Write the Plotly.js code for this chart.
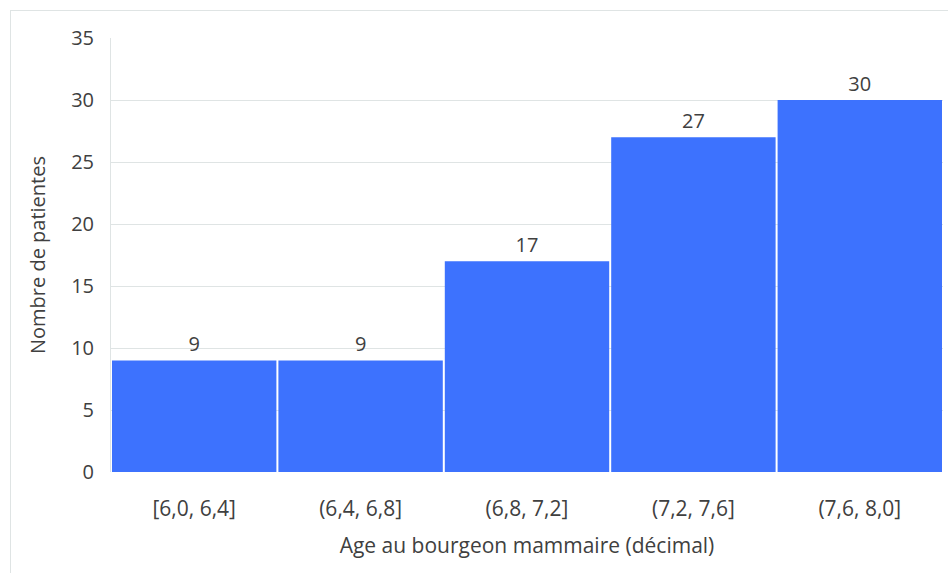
<!DOCTYPE html>
<html>
<head>
<meta charset="utf-8">
<script src="https://cdn.plot.ly/plotly-3.0.1.min.js"></script>
<style>
html,body{margin:0;padding:0;background:#fff;}
#wrap{position:relative;width:948px;height:573px;}
#frame{position:absolute;left:10px;top:10px;width:938px;height:563px;border-left:1px solid #dfe4e4;border-top:1px solid #dfe4e4;box-sizing:border-box;pointer-events:none;}
#chart{position:absolute;left:0;top:0;width:948px;height:573px;}
</style>
</head>
<body>
<div id="wrap">
<div id="chart"></div>
<div id="frame"></div>
</div>
<script>
const categories = ["[6,0, 6,4]", "(6,4, 6,8]", "(6,8, 7,2]", "(7,2, 7,6]", "(7,6, 8,0]"];
const counts = [9, 9, 17, 27, 30];
const yTicks = [0, 5, 10, 15, 20, 25, 30, 35];

const fontFam = "Open Sans, Noto Sans, sans-serif";
const textColor = "#404040";

const trace = {
  type: "bar",
  x: categories,
  y: counts,
  marker: {color: "#3d72fe", line: {width: 0}},
  text: counts.map(String),
  textposition: "outside",
  cliponaxis: false,
  textfont: {family: fontFam, size: 20, color: textColor},
  hoverinfo: "skip"
};

const layout = {
  width: 948, height: 573,
  margin: {l: 111, r: 5, t: 38, b: 101},
  paper_bgcolor: "rgba(0,0,0,0)",
  plot_bgcolor: "#ffffff",
  bargap: 0.012,
  showlegend: false,
  font: {family: fontFam, color: textColor},
  xaxis: {
    type: "category",
    showgrid: false,
    showline: false,
    zeroline: false,
    ticks: "outside",
    ticklen: 18,
    tickcolor: "rgba(0,0,0,0)",
    tickfont: {family: fontFam, size: 21, color: textColor},
    title: {text: "Age au bourgeon mammaire (décimal)", font: {family: fontFam, size: 21, color: textColor}, standoff: 17}
  },
  yaxis: {
    range: [0, 35],
    tickvals: yTicks,
    ticktext: yTicks.map(String),
    showgrid: true,
    gridcolor: "#dfe4e4",
    gridwidth: 1,
    showline: true,
    linecolor: "#dfe4e4",
    linewidth: 1,
    zeroline: false,
    ticks: "outside",
    ticklen: 12,
    tickcolor: "rgba(0,0,0,0)",
    tickfont: {family: fontFam, size: 20, color: textColor},
    title: {text: "Nombre de patientes", font: {family: fontFam, size: 20, color: textColor}, standoff: 20}
  }
};

Plotly.newPlot("chart", [trace], layout, {displayModeBar: false, staticPlot: true});
</script>
</body>
</html>
